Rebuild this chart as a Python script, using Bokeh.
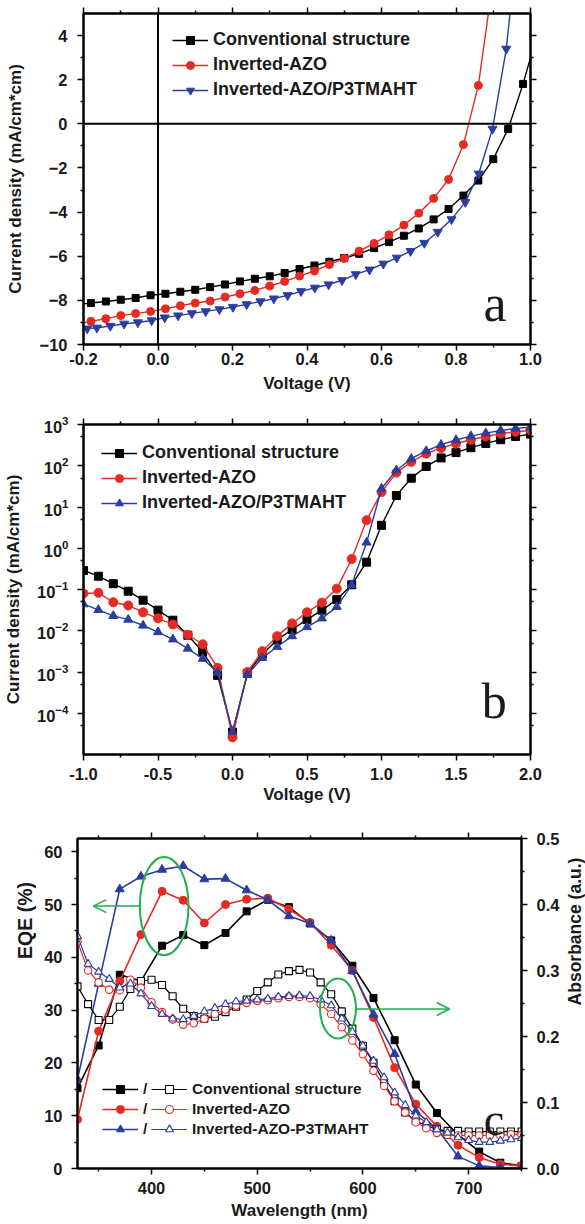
import math
from bokeh.plotting import figure
from bokeh.layouts import column, row
from bokeh.models import (Range1d, FixedTicker, LinearAxis, LogAxis, Span, Legend,
                          LegendItem, NumeralTickFormatter, Label, Arrow, OpenHead)
from bokeh.embed import file_html
from bokeh.resources import INLINE

# ================= DATA =================
# ---- panel a : J-V under illumination ----
a_conv_v = [-0.18, -0.14, -0.10, -0.06, -0.02, 0.02, 0.06, 0.10, 0.14, 0.18, 0.22, 0.26,
            0.30, 0.34, 0.38, 0.42, 0.46, 0.50, 0.54, 0.58, 0.62, 0.66, 0.70, 0.74, 0.78,
            0.82, 0.86, 0.90, 0.94, 0.98]
a_conv_j = [-8.12, -8.05, -7.97, -7.89, -7.77, -7.70, -7.61, -7.52, -7.40, -7.28, -7.14,
            -7.02, -6.91, -6.76, -6.58, -6.42, -6.25, -6.08, -5.89, -5.63, -5.36, -5.07,
            -4.74, -4.33, -3.86, -3.25, -2.57, -1.60, -0.23, 1.81]
a_conv_ends_v = [-0.2, 1.0]
a_conv_ends_j = [-8.16, 3.0]

a_inv_v = [-0.18, -0.14, -0.10, -0.06, -0.02, 0.02, 0.06, 0.10, 0.14, 0.18, 0.22, 0.26,
           0.30, 0.34, 0.38, 0.42, 0.46, 0.50, 0.54, 0.58, 0.62, 0.66, 0.70, 0.74, 0.78,
           0.82, 0.86]
a_inv_j = [-8.95, -8.83, -8.69, -8.60, -8.50, -8.38, -8.24, -8.12, -8.03, -7.85, -7.70,
           -7.55, -7.35, -7.14, -6.90, -6.67, -6.38, -6.10, -5.77, -5.42, -5.03, -4.59,
           -4.05, -3.38, -2.52, -0.94, 1.74]
a_inv_ends_v = [-0.2, 0.887]
a_inv_ends_j = [-9.02, 5.0]

a_p3_v = [-0.19, -0.164, -0.128, -0.091, -0.054, -0.017, 0.018, 0.054, 0.091, 0.128,
          0.165, 0.201, 0.238, 0.275, 0.311, 0.348, 0.384, 0.421, 0.458, 0.494, 0.531,
          0.568, 0.605, 0.641, 0.678, 0.715, 0.751, 0.788, 0.825, 0.861, 0.898, 0.935]
a_p3_j = [-9.28, -9.24, -9.16, -9.06, -9.00, -8.91, -8.78, -8.69, -8.59, -8.50, -8.41,
          -8.30, -8.18, -8.05, -7.92, -7.77, -7.59, -7.43, -7.28, -7.09, -6.82, -6.61,
          -6.34, -6.07, -5.77, -5.40, -4.90, -4.33, -3.55, -2.26, -0.23, 3.40]
a_p3_ends_v = [-0.2, 0.945]
a_p3_ends_j = [-9.30, 5.0]

a_xticks = [-0.2, 0.0, 0.2, 0.4, 0.6, 0.8, 1.0]
a_xminor = [-0.1, 0.1, 0.3, 0.5, 0.7, 0.9]
a_yticks = [-10, -8, -6, -4, -2, 0, 2, 4]
a_yminor = [-9, -7, -5, -3, -1, 1, 3]

# ---- panel b : dark J-V (log) ----
b_v = [-1.0, -0.9, -0.8, -0.7, -0.6, -0.5, -0.4, -0.3, -0.2, -0.1, 0.0,
       0.1, 0.2, 0.3, 0.4, 0.5, 0.6, 0.7, 0.8, 0.9, 1.0,
       1.1, 1.2, 1.3, 1.4, 1.5, 1.6, 1.7, 1.8, 1.9, 2.0]
b_conv = [0.29, 0.21, 0.138, 0.091, 0.055, 0.0316, 0.018, 0.0078, 0.0031, 8.3e-4, 3.5e-5,
          9.3e-4, 2.7e-3, 6.0e-3, 1.07e-2, 1.86e-2, 3.16e-2, 5.7e-2, 0.13, 0.46, 3.6,
          19, 50, 96, 155, 208, 274, 348, 427, 513, 585]
b_inv = [0.080, 0.083, 0.049, 0.041, 0.028, 0.020, 0.0142, 0.0080, 0.0047, 1.26e-3, 2.6e-5,
         1.0e-3, 3.2e-3, 7.4e-3, 0.0151, 0.028, 0.048, 0.105, 0.55, 4.8, 23,
         68, 124, 196, 270, 345, 427, 513, 600, 665, 716]
b_p3 = [0.044, 0.032, 0.023, 0.0186, 0.0134, 0.0093, 0.0062, 0.0037, 0.0021, 9.7e-4, 3.6e-5,
        8.7e-4, 2.2e-3, 4.1e-3, 7.4e-3, 0.0123, 0.020, 0.038, 0.129, 1.38, 28,
        78, 148, 228, 324, 420, 523, 618, 716, 800, 862]
b_xticks = [-1.0, -0.5, 0.0, 0.5, 1.0, 1.5, 2.0]
b_xminor = [-0.75, -0.25, 0.25, 0.75, 1.25, 1.75]
b_yticks = [1e-4, 1e-3, 1e-2, 1e-1, 1e0, 1e1, 1e2, 1e3]
b_yminor = [5e-5, 5e-4, 5e-3, 5e-2, 5e-1, 5e0, 5e1, 5e2]

# ---- panel c : EQE (left) and absorbance (right) ----
c_wl_eqe = [330, 350, 370, 390, 410, 430, 450, 470, 490, 510, 530, 550, 570, 590, 610,
            630, 650, 670, 690, 710, 730, 750]
c_eqe_conv = [15.2, 23.3, 36.7, 35.5, 42.2, 44.2, 42.3, 44.6, 48.7, 50.9, 49.5, 46.4, 43.2,
              38.4, 32.3, 24.3, 15.9, 10.5, 6.4, 3.2, 1.1, 0.5]
c_eqe_inv = [9.3, 26.0, 35.5, 44.3, 52.5, 50.8, 46.5, 50.0, 51.0, 51.2, 49.1, 46.6, 42.3,
             37.5, 28.6, 19.1, 12.2, 8.0, 4.4, 2.1, 0.8, 0.5]
c_eqe_p3 = [16.9, 35.0, 52.9, 55.3, 56.6, 57.3, 54.8, 54.9, 52.7, 50.9, 47.8, 46.4, 43.2,
            37.4, 29.2, 21.7, 10.8, 7.5, 2.3, 0.5, 0.2, 0.1]

c_wl_abs = [330, 340, 350, 360, 370, 380, 390, 400, 410, 420, 430, 440, 450, 460, 470, 480,
            490, 500, 510, 520, 530, 540, 550, 560, 570, 580, 590, 600, 610, 620, 630, 640,
            650, 660, 670, 680, 690, 700, 710, 720, 730, 740, 750]
c_abs_conv = [0.276, 0.249, 0.225, 0.225, 0.245, 0.272, 0.284, 0.286, 0.278, 0.261,
              0.242, 0.231, 0.227, 0.230, 0.237, 0.245, 0.256, 0.269, 0.282, 0.294,
              0.299, 0.301, 0.297, 0.282, 0.264, 0.238, 0.212, 0.186, 0.160, 0.130,
              0.102, 0.085, 0.072, 0.065, 0.059, 0.057, 0.057, 0.056, 0.056, 0.056,
              0.056, 0.056, 0.056]
c_abs_inv = [0.344, 0.300, 0.282, 0.271, 0.270, 0.286, 0.274, 0.252, 0.237, 0.226,
             0.218, 0.220, 0.227, 0.234, 0.241, 0.247, 0.251, 0.254, 0.255, 0.258,
             0.260, 0.260, 0.258, 0.249, 0.234, 0.214, 0.194, 0.173, 0.148, 0.125,
             0.102, 0.085, 0.070, 0.061, 0.054, 0.051, 0.050, 0.050, 0.050, 0.050,
             0.050, 0.052, 0.051]
c_abs_p3 = [0.352, 0.310, 0.298, 0.287, 0.274, 0.280, 0.265, 0.246, 0.234, 0.227,
            0.226, 0.231, 0.238, 0.243, 0.249, 0.253, 0.254, 0.256, 0.257, 0.260,
            0.261, 0.262, 0.261, 0.256, 0.247, 0.227, 0.207, 0.186, 0.163, 0.138,
            0.115, 0.096, 0.080, 0.070, 0.059, 0.054, 0.047, 0.043, 0.040, 0.040,
            0.042, 0.044, 0.046]
c_xticks = [400, 500, 600, 700]
c_xminor = [350, 450, 550, 650, 750]
c_yticks = [0, 10, 20, 30, 40, 50, 60]
c_yminor = [5, 15, 25, 35, 45, 55]
c_rticks = [0.0, 0.1, 0.2, 0.3, 0.4, 0.5]
c_rminor = [0.05, 0.15, 0.25, 0.35, 0.45]

# callouts (ellipse centre, size) in data units of panel c
c_ell_x = [412, 576.4]
c_ell_y = [49.7, 30.3]
c_ell_w = [46, 34]
c_ell_h = [18.6, 11.4]

names = ["Conventional structure", "Inverted-AZO", "Inverted-AZO/P3TMAHT"]
names_c = ["Conventional structure", "Inverted-AZO", "Inverted-AZO-P3TMAHT"]

# ================= STYLE =================
FONT = "Liberation Sans"
TXT = "#1a1a1a"
BLACK = "#000000"
RED = "#e52a22"
BLUE = "#2b3d9e"
GREEN = "#22ad4f"
W = 585


def base_fig(width, height, x_range, y_range, left, right, top, bottom, y_type="linear"):
    p = figure(width=width, height=height, x_range=x_range, y_range=y_range,
               y_axis_type=y_type, output_backend="svg", toolbar_location=None,
               min_border_left=left, min_border_right=right,
               min_border_top=top, min_border_bottom=bottom)
    p.grid.visible = False
    p.outline_line_color = "black"
    p.outline_line_width = 2
    p.background_fill_color = "white"
    p.border_fill_color = "white"
    return p


def style_axis(ax, show_labels=True):
    ax.axis_line_width = 2
    ax.axis_line_color = "black"
    ax.major_tick_line_width = 1.5
    ax.minor_tick_line_width = 1.5
    ax.major_tick_in = 0
    ax.major_tick_out = 6
    ax.minor_tick_in = 0
    ax.minor_tick_out = 3
    ax.major_label_text_font = FONT
    ax.major_label_text_font_style = "bold"
    if show_labels:
        ax.major_label_text_color = TXT
        ax.major_label_text_font_size = "16.5px"
    else:
        ax.major_label_text_color = None
        ax.major_label_text_font_size = "1px"
        ax.major_label_standoff = 0
    ax.axis_label_text_font = FONT
    ax.axis_label_text_font_style = "bold"
    ax.axis_label_text_font_size = "17px"
    ax.axis_label_text_color = TXT


def tick_axis(cls, ticks, minor, **kw):
    a = cls(ticker=FixedTicker(ticks=ticks, minor_ticks=minor), **kw)
    style_axis(a, False)
    return a


def make_legend(items, loc, font_size, spacing, height):
    return Legend(items=items, location=loc, padding=0, margin=0, spacing=spacing,
                  glyph_width=36, glyph_height=height, label_height=height,
                  label_standoff=5, label_text_font=FONT, label_text_font_style="bold",
                  label_text_font_size=font_size, label_text_color=TXT,
                  border_line_color=None, background_fill_alpha=0)


def title_strip(width, height, text, x, y, size):
    """A narrow blank figure that carries one rotated axis title."""
    s = figure(width=width, height=height, output_backend="svg", toolbar_location=None,
               x_axis_location=None, y_axis_location=None,
               x_range=Range1d(0, 1), y_range=Range1d(0, 1),
               min_border_left=0, min_border_right=0, min_border_top=0, min_border_bottom=0)
    s.grid.visible = False
    s.outline_line_color = None
    s.background_fill_color = "white"
    s.border_fill_color = "white"
    s.add_layout(Label(x=x, y=y, x_units="screen", y_units="screen", text=text,
                       angle=math.pi / 2, text_align="center", text_baseline="middle",
                       text_font=FONT, text_font_style="bold", text_font_size=size,
                       text_color=TXT))
    return s


# ================= PANEL A =================
pa = base_fig(W, 405, Range1d(-0.2, 1.0), Range1d(-10, 5), 83, 54, 13, 61)
ax = pa.below[0]
ax.ticker = FixedTicker(ticks=a_xticks, minor_ticks=a_xminor)
ax.formatter = NumeralTickFormatter(format="0.0")
ax.axis_label = "Voltage (V)"
style_axis(ax)
ax.major_label_standoff = 2
ax.axis_label_standoff = 6
ay = pa.left[0]
ay.ticker = FixedTicker(ticks=a_yticks, minor_ticks=a_yminor)
ay.axis_label = "Current density (mA/cm*cm)"
style_axis(ay)
ay.major_label_standoff = 10
ay.axis_label_standoff = 12
pa.add_layout(tick_axis(LinearAxis, a_xticks, a_xminor), "above")
pa.add_layout(tick_axis(LinearAxis, a_yticks, a_yminor), "right")

pa.add_layout(Span(location=0, dimension="height", line_color="black", line_width=2))
pa.add_layout(Span(location=0, dimension="width", line_color="black", line_width=2))

la1 = pa.line([a_conv_ends_v[0]] + a_conv_v + [a_conv_ends_v[1]],
              [a_conv_ends_j[0]] + a_conv_j + [a_conv_ends_j[1]], color=BLACK, line_width=1.4)
sa1 = pa.scatter(a_conv_v, a_conv_j, marker="square", size=7, color=BLACK)
la2 = pa.line([a_inv_ends_v[0]] + a_inv_v + [a_inv_ends_v[1]],
              [a_inv_ends_j[0]] + a_inv_j + [a_inv_ends_j[1]], color=RED, line_width=1.4)
sa2 = pa.scatter(a_inv_v, a_inv_j, marker="circle", size=8, color=RED)
la3 = pa.line([a_p3_ends_v[0]] + a_p3_v + [a_p3_ends_v[1]],
              [a_p3_ends_j[0]] + a_p3_j + [a_p3_ends_j[1]], color=BLUE, line_width=1.4)
sa3 = pa.scatter(a_p3_v, a_p3_j, marker="inverted_triangle", size=9, color=BLUE)

pa.add_layout(make_legend([LegendItem(label=names[0], renderers=[la1, sa1]),
                           LegendItem(label=names[1], renderers=[la2, sa2]),
                           LegendItem(label=names[2], renderers=[la3, sa3])],
                          (89, 244), "18px", 4, 20))
pa.add_layout(Label(x=0.905, y=-8.15, text="a", text_font="Liberation Serif",
                    text_font_size="52px", text_align="center", text_baseline="alphabetic",
                    text_color=TXT))

# ================= PANEL B =================
pb = base_fig(W, 407, Range1d(-1.0, 2.0), Range1d(1e-5, 1e3), 83, 55, 19, 58, y_type="log")
bx = pb.below[0]
bx.ticker = FixedTicker(ticks=b_xticks, minor_ticks=b_xminor)
bx.formatter = NumeralTickFormatter(format="0.0")
bx.axis_label = "Voltage (V)"
style_axis(bx)
bx.major_label_standoff = 7
bx.axis_label_standoff = 2
by = pb.left[0]
by.ticker = FixedTicker(ticks=b_yticks, minor_ticks=b_yminor)
by.axis_label = "Current density (mA/cm*cm)"
style_axis(by)
by.major_label_standoff = 9
by.axis_label_standoff = 11
pb.add_layout(tick_axis(LinearAxis, b_xticks, b_xminor), "above")
pb.add_layout(tick_axis(LogAxis, b_yticks, b_yminor), "right")

lb1 = pb.line(b_v, b_conv, color=BLACK, line_width=1.4)
sb1 = pb.scatter(b_v, b_conv, marker="square", size=8, color=BLACK)
lb2 = pb.line(b_v, b_inv, color=RED, line_width=1.4)
sb2 = pb.scatter(b_v, b_inv, marker="circle", size=9, color=RED)
lb3 = pb.line(b_v, b_p3, color=BLUE, line_width=1.4)
sb3 = pb.scatter(b_v, b_p3, marker="triangle", size=9, color=BLUE)

pb.add_layout(make_legend([LegendItem(label=names[0], renderers=[lb1, sb1]),
                           LegendItem(label=names[1], renderers=[lb2, sb2]),
                           LegendItem(label=names[2], renderers=[lb3, sb3])],
                          (18, 241), "18px", 4, 20))
pb.add_layout(Label(x=1.756, y=2.0e-4, text="b", text_font="Liberation Serif",
                    text_font_size="50px", text_align="center", text_baseline="alphabetic",
                    text_color=TXT))

# ================= PANEL C =================
HC = 411
LEFT_STRIP, RIGHT_STRIP = 36, 23
pc = base_fig(W - LEFT_STRIP - RIGHT_STRIP, HC, Range1d(330, 750), Range1d(0, 62.5),
              41, 38, 26, 55)
pc.extra_y_ranges = {"abs": Range1d(0, 0.5)}
cx = pc.below[0]
cx.ticker = FixedTicker(ticks=c_xticks, minor_ticks=c_xminor)
cx.axis_label = "Wavelength (nm)"
style_axis(cx)
cx.major_label_standoff = 7
cx.axis_label_standoff = 4
cy = pc.left[0]
cy.ticker = FixedTicker(ticks=c_yticks, minor_ticks=c_yminor)
style_axis(cy)
cy.major_label_standoff = 9
pc.add_layout(tick_axis(LinearAxis, c_xticks, c_xminor), "above")
rc = LinearAxis(y_range_name="abs", ticker=FixedTicker(ticks=c_rticks, minor_ticks=c_rminor),
                formatter=NumeralTickFormatter(format="0.0"))
style_axis(rc)
rc.major_label_standoff = 9
pc.add_layout(rc, "right")

# EQE (solid symbols)
lc1 = pc.line(c_wl_eqe, c_eqe_conv, color=BLACK, line_width=1.6)
sc1 = pc.scatter(c_wl_eqe, c_eqe_conv, marker="square", size=7, color=BLACK)
lc2 = pc.line(c_wl_eqe, c_eqe_inv, color=RED, line_width=1.6)
sc2 = pc.scatter(c_wl_eqe, c_eqe_inv, marker="circle", size=8, color=RED)
lc3 = pc.line(c_wl_eqe, c_eqe_p3, color=BLUE, line_width=1.6)
sc3 = pc.scatter(c_wl_eqe, c_eqe_p3, marker="triangle", size=9, color=BLUE)
# Absorbance (open symbols)
lo1 = pc.line(c_wl_abs, c_abs_conv, color=BLACK, line_width=1.2, y_range_name="abs")
so1 = pc.scatter(c_wl_abs, c_abs_conv, marker="square", size=7, line_color=BLACK,
                 fill_color="white", line_width=1.1, y_range_name="abs")
lo2 = pc.line(c_wl_abs, c_abs_inv, color=RED, line_width=1.2, y_range_name="abs")
so2 = pc.scatter(c_wl_abs, c_abs_inv, marker="circle", size=7.5, line_color=RED,
                 fill_color="white", line_width=1.1, y_range_name="abs")
lo3 = pc.line(c_wl_abs, c_abs_p3, color=BLUE, line_width=1.2, y_range_name="abs")
so3 = pc.scatter(c_wl_abs, c_abs_p3, marker="triangle", size=8, line_color=BLUE,
                 fill_color="white", line_width=1.1, y_range_name="abs")

pc.ellipse(x=c_ell_x, y=c_ell_y, width=c_ell_w, height=c_ell_h, fill_color=None,
           line_color=GREEN, line_width=2)
pc.add_layout(Arrow(end=OpenHead(size=13, line_color=GREEN, line_width=1.5),
                    x_start=389, y_start=49.7, x_end=345, y_end=49.7,
                    line_color=GREEN, line_width=1.5))
pc.add_layout(Arrow(end=OpenHead(size=13, line_color=GREEN, line_width=1.5),
                    x_start=593.4, y_start=30.2, x_end=682, y_end=30.2,
                    line_color=GREEN, line_width=1.5))

pc.add_layout(make_legend([LegendItem(label="/", renderers=[lc1, sc1]),
                           LegendItem(label="/", renderers=[lc2, sc2]),
                           LegendItem(label="/", renderers=[lc3, sc3])],
                          (25, 29), "15.5px", 0, 20))
pc.add_layout(make_legend([LegendItem(label=names_c[0], renderers=[lo1, so1]),
                           LegendItem(label=names_c[1], renderers=[lo2, so2]),
                           LegendItem(label=names_c[2], renderers=[lo3, so3])],
                          (74, 29), "15.5px", 0, 20))
pc.add_layout(Label(x=724, y=9.3, text="c", text_font="Liberation Serif",
                    text_font_size="46px", text_align="center", text_baseline="alphabetic",
                    text_color=TXT))

left_title = title_strip(LEFT_STRIP, HC, "EQE (%)", 24, HC - 163, "19.5px")
right_title = title_strip(RIGHT_STRIP, HC, "Absorbance (a.u.)", 12, HC - 174, "17.5px")

layout = column(pa, pb, row(left_title, pc, right_title))
open("out.html", "w").write(file_html(layout, INLINE))
